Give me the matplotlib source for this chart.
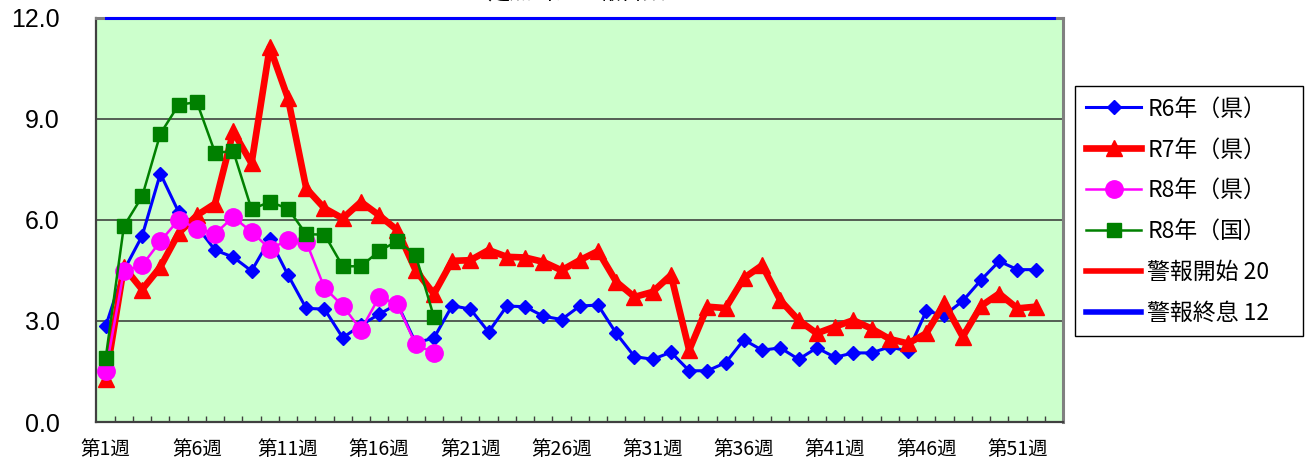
import matplotlib
matplotlib.use('Agg')
import matplotlib.pyplot as plt
from matplotlib.ticker import FixedLocator
from matplotlib.lines import Line2D

# ---------------- data ----------------
weeks = list(range(1, 54))
tick_weeks = list(range(1, 54, 5))
tick_labels = [f"第{w}週" for w in tick_weeks]
yticks = [0.0, 3.0, 6.0, 9.0, 12.0]

r6_pref = [2.84, 4.5, 5.52, 7.37, 6.23, 5.8, 5.1, 4.89, 4.48, 5.42, 4.36, 3.37, 3.35,
           2.50, 2.87, 3.2, 3.5, 2.35, 2.49, 3.45, 3.35, 2.67, 3.44, 3.42, 3.14, 3.04,
           3.44, 3.47, 2.63, 1.94, 1.86, 2.07, 1.52, 1.52, 1.76, 2.44, 2.13, 2.2, 1.86,
           2.2, 1.92, 2.05, 2.05, 2.23, 2.1, 3.29, 3.17, 3.59, 4.21, 4.77, 4.52, 4.52]
r7_pref = [1.27, 4.6, 3.93, 4.6, 5.6, 6.13, 6.48, 8.62, 7.67, 11.12, 9.6, 6.93, 6.34,
           6.04, 6.53, 6.13, 5.69, 4.5, 3.8, 4.78, 4.8, 5.1, 4.9, 4.88, 4.75, 4.5,
           4.8, 5.07, 4.16, 3.71, 3.86, 4.36, 2.13, 3.42, 3.38, 4.27, 4.65, 3.61, 3.02,
           2.63, 2.83, 3.02, 2.77, 2.46, 2.33, 2.63, 3.52, 2.53, 3.44, 3.81, 3.37, 3.42]
r8_pref = [1.51, 4.48, 4.65, 5.36, 6.0, 5.74, 5.59, 6.08, 5.64, 5.14, 5.39, 5.34, 3.98,
           3.45, 2.73, 3.71, 3.49, 2.30, 2.05]
r8_nat = [1.89, 5.81, 6.69, 8.55, 9.41, 9.49, 7.99, 8.03, 6.31, 6.53, 6.33, 5.57, 5.56,
          4.62, 4.62, 5.07, 5.37, 4.95, 3.12]
alarm_start = 20
alarm_end = 12

labels = ["R6年（県）", "R7年（県）", "R8年（県）", "R8年（国）", "警報開始 20", "警報終息 12"]

# ---------------- figure ----------------
W, H = 1306, 463
fig = plt.figure(figsize=(W / 100, H / 100), dpi=100)
ax = fig.add_axes([96 / W, 1 - 422 / H, (1063 - 96) / W, (422 - 17.5) / H])
ax.set_facecolor('#CCFFCC')

cjk = ['Noto Sans CJK JP', 'DejaVu Sans']

ax.plot(weeks[:len(r6_pref)], r6_pref, color='#0000FF', lw=2.2, marker='D', ms=7,
        zorder=3, label=labels[0])
ax.plot(weeks[:len(r7_pref)], r7_pref, color='#FF0000', lw=4.8, marker='^', ms=11.5,
        zorder=4, label=labels[1])
ax.plot(weeks[:len(r8_pref)], r8_pref, color='#FF00FF', lw=1.8, marker='o', ms=12.5,
        zorder=5, label=labels[2])
ax.plot(weeks[:len(r8_nat)], r8_nat, color='#008000', lw=1.8, marker='s', ms=10.5,
        zorder=6, label=labels[3])
ax.plot(weeks, [alarm_start] * len(weeks), color='#FF0000', lw=2.2, zorder=7,
        label=labels[4])
ax.plot(weeks, [alarm_end] * len(weeks), color='#0000FF', lw=2.2, zorder=7,
        clip_on=False, label=labels[5])

ax.set_xlim(0.47, 53.5)
ax.set_ylim(0, 12)

# grid
for y in yticks[1:-1]:
    ax.axhline(y, color='#333333', lw=1.1, zorder=1)

# spines
for s in ['left', 'bottom']:
    ax.spines[s].set_color('#404040')
    ax.spines[s].set_linewidth(1.6)
for s in ['right', 'top']:
    ax.spines[s].set_color('#808080')
    ax.spines[s].set_linewidth(2.2)

ax.set_yticks(yticks)
ax.set_yticklabels([f"{v:.1f}" for v in yticks], fontsize=18, family='Liberation Sans')
ax.tick_params(axis='y', length=0, pad=26)

ax.xaxis.set_major_locator(FixedLocator(tick_weeks))
ax.set_xticklabels(tick_labels, family=cjk, fontsize=14)
ax.xaxis.set_minor_locator(FixedLocator([w + 0.5 for w in weeks[:-1]]))
ax.tick_params(axis='x', which='major', length=0, pad=12)
ax.tick_params(axis='x', which='minor', direction='in', length=4, width=1, color='#404040')

# partially visible title at top (clipped in the reference too)
fig.text(576 / W, 1 - 4 / H, "定点当たり報告数", ha='center', va='bottom',
         family=cjk, fontsize=16)

# legend
handles = [
    Line2D([], [], color='#0000FF', lw=2.2, marker='D', ms=7),
    Line2D([], [], color='#FF0000', lw=4.8, marker='^', ms=11.5),
    Line2D([], [], color='#FF00FF', lw=1.8, marker='o', ms=12.5),
    Line2D([], [], color='#008000', lw=1.8, marker='s', ms=10.5),
    Line2D([], [], color='#FF0000', lw=4.0),
    Line2D([], [], color='#0000FF', lw=4.0),
]
leg = fig.legend(handles, labels, loc='upper left',
                 bbox_to_anchor=(1075 / W, 1 - 337 / H, 228 / W, 251 / H),
                 mode='expand', borderaxespad=0,
                 prop={'family': cjk, 'size': 16.5}, frameon=True, fancybox=False,
                 edgecolor='black', handlelength=2.4, handletextpad=0.25,
                 labelspacing=0.78, borderpad=0.5, framealpha=1)
leg.get_frame().set_linewidth(1.0)

fig.savefig('out.png', dpi=100, facecolor='white')
